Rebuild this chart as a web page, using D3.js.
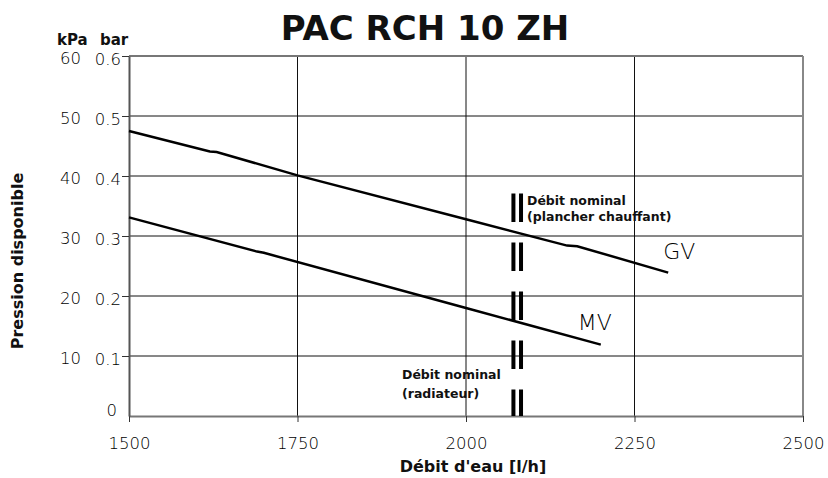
<!DOCTYPE html>
<html>
<head>
<meta charset="utf-8">
<script src="https://d3js.org/d3.v7.min.js"></script>
<style>
  body { margin: 0; background: #fff; }
  text { font-family: "DejaVu Sans", sans-serif; fill: #2a2a2a; }
  .bold { font-weight: 700; fill: #111; }
  .tick text, .lbl { font-family: "DejaVu Sans", sans-serif; font-size: 16.5px; font-weight: 200; fill: #000; }
</style>
</head>
<body>
<svg width="828" height="478"></svg>
<script>
    // values (debit in l/h, pressure in kPa)
    const gvDebit = [1500, 1620, 1630, 1750, 2000, 2150, 2165, 2300];
    const gvKpa   = [47.5, 44.1, 44.0, 40.1, 32.8, 28.4, 28.3, 23.9];
    const mvDebit = [1500, 1690, 1700, 2000, 2200];
    const mvKpa   = [33.1, 27.4, 27.2, 18.0, 11.9];
    const xTicks = [1500, 1750, 2000, 2250, 2500];
    const kpaTicks = [10, 20, 30, 40, 50, 60];
    const barTicks = [0.1, 0.2, 0.3, 0.4, 0.5, 0.6];
    const nominalDebit = 2076;
    const nominalTopKpa = 37.1;

    const svg = d3.select('svg');
    const x = d3.scaleLinear().domain([1500, 2500]).range([129, 803]);
    const y = d3.scaleLinear().domain([0, 60]).range([416, 56]);
    const yBar = d3.scaleLinear().domain([0, 0.6]).range([416, 56]);

    // grid
    const grid = svg.append('g');
    grid.selectAll('line.h')
        .data(kpaTicks.filter(d => d < 60))
        .enter().append('line')
        .attr('x1', x(1500)).attr('x2', x(2500))
        .attr('y1', d => y(d)).attr('y2', d => y(d))
        .attr('style', 'stroke:#111;stroke-width:1');
    grid.selectAll('line.v')
        .data(xTicks.filter(d => d > 1500 && d < 2500))
        .enter().append('line')
        .attr('x1', d => x(d)).attr('x2', d => x(d))
        .attr('y1', y(60)).attr('y2', y(0))
        .attr('style', 'stroke:#111;stroke-width:1');
    // frame top / right
    grid.append('line')
        .attr('x1', x(1500)).attr('x2', x(2500)).attr('y1', y(60)).attr('y2', y(60))
        .attr('style', 'stroke:#777;stroke-width:2');
    grid.append('line')
        .attr('x1', x(2500)).attr('x2', x(2500)).attr('y1', y(60)).attr('y2', y(0))
        .attr('style', 'stroke:#888;stroke-width:2');

    // bottom axis
    const xAxis = svg.append('g')
        .attr('transform', 'translate(0,' + y(0) + ')')
        .call(d3.axisBottom(x).tickValues(xTicks).tickFormat(d3.format('d'))
              .tickSize(6).tickPadding(15).tickSizeOuter(0));
    xAxis.select('.domain').attr('stroke', '#777').attr('stroke-width', 2);
    xAxis.selectAll('.tick line').attr('stroke', '#333');
    xAxis.selectAll('text').attr('font-size', null).attr('font-family', null).attr('fill', null);

    // left axis (bar)
    const yAxis = svg.append('g')
        .attr('transform', 'translate(' + x(1500) + ',0)')
        .call(d3.axisLeft(yBar).tickValues(barTicks).tickSize(7).tickPadding(1)
              .tickFormat(d3.format('.1f')).tickSizeOuter(0));
    yAxis.select('.domain').attr('stroke', '#555').attr('stroke-width', 2);
    yAxis.selectAll('.tick line').attr('stroke', '#333');
    yAxis.selectAll('text').attr('font-size', null).attr('font-family', null)
        .attr('fill', null).attr('y', 3);
    svg.append('text').attr('class', 'lbl')
        .attr('x', 117).attr('y', y(0) - 5).attr('dy', '0.32em')
        .attr('text-anchor', 'end')
        .text('0');

    // kPa labels
    svg.append('g').selectAll('text')
        .data(kpaTicks)
        .enter().append('text')
        .attr('class', 'lbl')
        .attr('x', 81).attr('y', d => y(d) + 3).attr('dy', '0.32em')
        .attr('text-anchor', 'end')
        .text(d => d);

    // unit headers
    svg.append('text').attr('class', 'bold').attr('x', 57).attr('y', 45)
        .attr('font-size', 15).text('kPa');
    svg.append('text').attr('class', 'bold').attr('x', 100).attr('y', 45)
        .attr('font-size', 15).text('bar');

    // titles
    svg.append('text').attr('class', 'bold')
        .attr('x', 425).attr('y', 40).attr('text-anchor', 'middle')
        .attr('font-family', '"Open Sans", sans-serif')
        .attr('font-size', 34).text('PAC RCH 10 ZH');
    svg.append('text').attr('class', 'bold')
        .attr('x', 473).attr('y', 472).attr('text-anchor', 'middle')
        .attr('font-size', 16).text("Débit d'eau [l/h]");
    svg.append('text').attr('class', 'bold')
        .attr('transform', 'translate(23,261) rotate(-90)')
        .attr('text-anchor', 'middle')
        .attr('font-size', 16).text('Pression disponible');

    // curves
    const line = d3.line().x(d => x(d[0])).y(d => y(d[1]));
    const gv = d3.zip(gvDebit, gvKpa);
    const mv = d3.zip(mvDebit, mvKpa);
    svg.selectAll('path.curve')
        .data([gv, mv])
        .enter().append('path')
        .attr('d', line)
        .attr('style', 'fill:none;stroke:#000;stroke-width:2.5');

    svg.append('text').attr('class', 'lbl').attr('x', x(2300) - 5).attr('y', y(23.9) - 14)
        .style('font-size', '22px').text('GV');
    svg.append('text').attr('class', 'lbl').attr('x', x(2200) - 23).attr('y', y(11.9) - 15)
        .style('font-size', '22px').text('MV');

    // nominal flow marker (double dashed bars)
    svg.selectAll('line.nom')
        .data([-3.8, 3.8])
        .enter().append('line')
        .attr('x1', d => x(nominalDebit) + d).attr('x2', d => x(nominalDebit) + d)
        .attr('y1', y(nominalTopKpa)).attr('y2', y(0))
        .attr('style', 'stroke:#000;stroke-width:4;stroke-dasharray:28.5,20.5');

    const note1 = svg.append('text').attr('class', 'bold').attr('font-size', 12.5);
    note1.append('tspan').attr('x', 527).attr('y', 205).text('Débit nominal');
    note1.append('tspan').attr('x', 527).attr('y', 221).text('(plancher chauffant)');
    const note2 = svg.append('text').attr('class', 'bold').attr('font-size', 12.5);
    note2.append('tspan').attr('x', 402).attr('y', 379).text('Débit nominal');
    note2.append('tspan').attr('x', 402).attr('y', 398).text('(radiateur)');
</script>
</body>
</html>
